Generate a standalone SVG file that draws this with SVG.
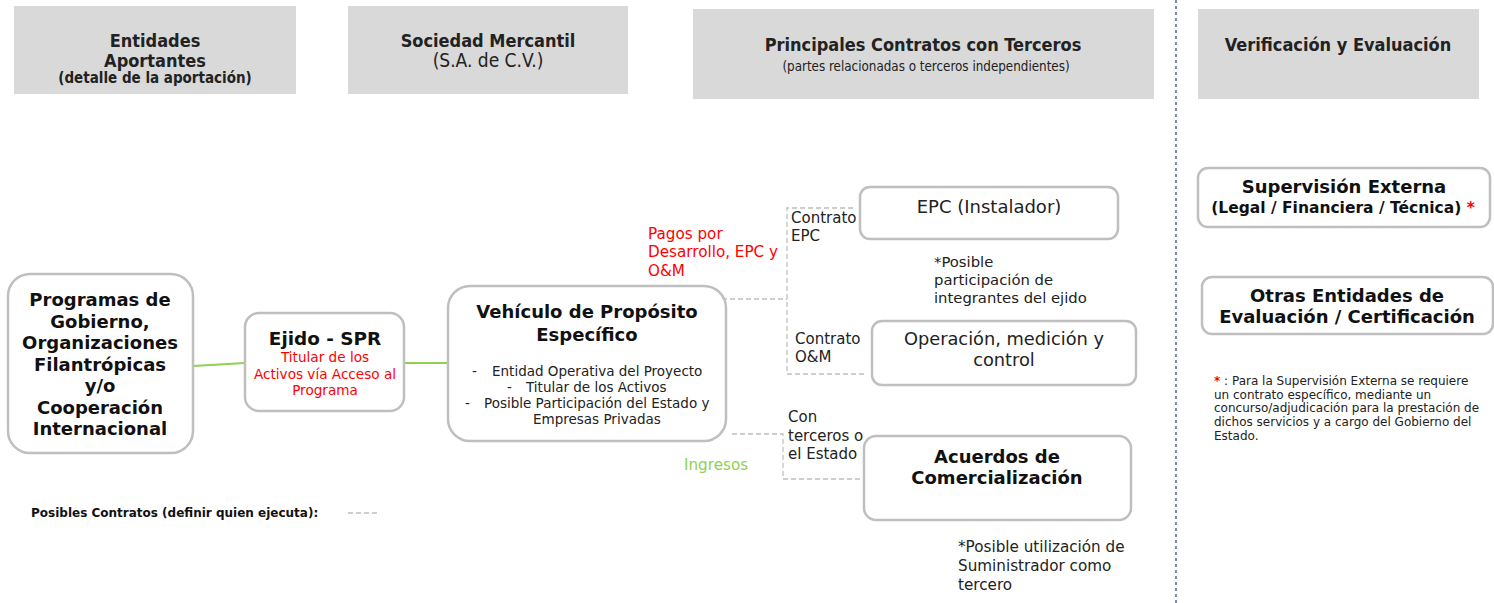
<svg xmlns="http://www.w3.org/2000/svg" width="1494" height="603" viewBox="0 0 1494 603">
<style>
.hdr{fill:#d9d9d9}
.ht{font-family:"DejaVu Sans Condensed","DejaVu Sans",sans-serif;font-weight:bold;fill:#222;text-anchor:middle}
.hs{font-family:"DejaVu Sans Condensed","DejaVu Sans",sans-serif;fill:#222;text-anchor:middle}
.box{fill:#fff;stroke:#bfbfbf;stroke-width:2.5}
.b{font-family:"DejaVu Sans",Verdana,sans-serif;font-weight:bold;fill:#111;text-anchor:middle}
.bl{font-family:"DejaVu Sans",Verdana,sans-serif;font-weight:bold;fill:#111}
.n{font-family:"DejaVu Sans",Verdana,sans-serif;fill:#222}
.c{text-anchor:middle}
.red{fill:#ff0000}
.grn{fill:#92d050}
.dash{fill:none;stroke:#bfbfbf;stroke-width:1.3;stroke-dasharray:5,3}
.gl{fill:none;stroke:#92d050;stroke-width:2}
</style>
<rect width="1494" height="603" fill="#fff"/>
<g id="headers">
<rect class="hdr" x="14" y="6" width="282" height="88"/>
<text class="ht" x="155" y="47" font-size="18">Entidades</text>
<text class="ht" x="155" y="67" font-size="18">Aportantes</text>
<text class="ht" x="155" y="83" font-size="15">(detalle de la aportación)</text>
<rect class="hdr" x="348" y="6" width="280" height="88"/>
<text class="ht" x="488" y="47" font-size="18">Sociedad Mercantil</text>
<text class="hs" x="488" y="67" font-size="19">(S.A. de C.V.)</text>
<rect class="hdr" x="693" y="9" width="461" height="90"/>
<text class="ht" x="923" y="51" font-size="18">Principales Contratos con Terceros</text>
<text class="hs" x="926" y="71" font-size="13.3">(partes relacionadas o terceros independientes)</text>
<rect class="hdr" x="1198" y="9" width="281" height="90"/>
<text class="ht" x="1338" y="51" font-size="18">Verificación y Evaluación</text>
</g>
<line x1="1176" y1="0" x2="1176" y2="603" stroke="#2f4f9f" stroke-width="1.3" stroke-dasharray="3,3"/>
<g id="connectors">
<path class="gl" d="M193 366 L245 363"/>
<path class="gl" d="M404 363 L448 363"/>
<path class="dash" d="M714 299 H787 M853 208 H787 V374 H866"/>
<path class="dash" d="M732 434 H783 V479 H862"/>
<path class="dash" d="M348 513 H380"/>
</g>
<g id="programas">
<rect class="box" x="8" y="274" width="185" height="179" rx="22"/>
<text class="b" font-size="18"><tspan x="100" y="306">Programas de</tspan><tspan x="100" y="327.5">Gobierno,</tspan><tspan x="100" y="349">Organizaciones</tspan><tspan x="100" y="370.5">Filantrópicas</tspan><tspan x="100" y="392">y/o</tspan><tspan x="100" y="413.5">Cooperación</tspan><tspan x="100" y="435">Internacional</tspan></text>
</g>
<g id="ejido">
<rect class="box" x="245" y="313" width="159" height="98" rx="14"/>
<text class="b" x="325" y="345" font-size="18.4">Ejido - SPR</text>
<text class="n c red" font-size="13.6"><tspan x="325" y="362">Titular de los</tspan><tspan x="325" y="378.5">Activos vía Acceso al</tspan><tspan x="325" y="395">Programa</tspan></text>
</g>
<g id="vpe">
<rect class="box" x="448" y="286" width="278" height="155" rx="22"/>
<text class="b" font-size="18"><tspan x="587" y="318">Vehículo de Propósito</tspan><tspan x="587" y="341">Específico</tspan></text>
<text class="n" font-size="13.5"><tspan x="472" y="376">-</tspan><tspan x="492" y="376">Entidad Operativa del Proyecto</tspan><tspan x="507" y="392">-</tspan><tspan x="526" y="392">Titular de los Activos</tspan><tspan x="465" y="408">-</tspan><tspan x="484" y="408">Posible Participación del Estado y</tspan><tspan x="533" y="424">Empresas Privadas</tspan></text>
</g>
<g id="labels">
<text class="n red" font-size="15.2"><tspan x="648" y="239">Pagos por</tspan><tspan x="648" y="257">Desarrollo, EPC y</tspan><tspan x="648" y="276">O&amp;M</tspan></text>
<text class="n" font-size="15"><tspan x="791" y="223">Contrato</tspan><tspan x="791" y="241">EPC</tspan></text>
<text class="n" font-size="15"><tspan x="795" y="344">Contrato</tspan><tspan x="795" y="362">O&amp;M</tspan></text>
<text class="n" font-size="15"><tspan x="788" y="422">Con</tspan><tspan x="788" y="441">terceros o</tspan><tspan x="788" y="459">el Estado</tspan></text>
<text class="n grn" x="684" y="470" font-size="15.2">Ingresos</text>
<text class="n" font-size="14.8"><tspan x="934" y="267">*Posible</tspan><tspan x="934" y="285">participación de</tspan><tspan x="934" y="303">integrantes del ejido</tspan></text>
<text class="n" font-size="15.2"><tspan x="958" y="552">*Posible utilización de</tspan><tspan x="958" y="571">Suministrador como</tspan><tspan x="958" y="590">tercero</tspan></text>
<text class="bl" x="31" y="517" font-size="12">Posibles Contratos (definir quien ejecuta):</text>
</g>
<g id="epc">
<rect class="box" x="860" y="187" width="258" height="52" rx="10"/>
<text class="n c" x="989" y="213" font-size="18">EPC (Instalador)</text>
</g>
<g id="operacion">
<rect class="box" x="872" y="321" width="264" height="64" rx="10"/>
<text class="n c" font-size="17.8"><tspan x="1004" y="345">Operación, medición y</tspan><tspan x="1004" y="366">control</tspan></text>
</g>
<g id="acuerdos">
<rect class="box" x="864" y="436" width="267" height="84" rx="12"/>
<text class="b" font-size="18"><tspan x="997" y="463">Acuerdos de</tspan><tspan x="997" y="484">Comercialización</tspan></text>
</g>
<g id="supervision">
<rect class="box" x="1198" y="168" width="292" height="59" rx="10"/>
<text class="b" x="1344" y="193" font-size="18">Supervisión Externa</text>
<text class="b" x="1343" y="213" font-size="15.5">(Legal / Financiera / Técnica) <tspan class="red">*</tspan></text>
</g>
<g id="otras">
<rect class="box" x="1202" y="277" width="291" height="57" rx="10"/>
<text class="b" font-size="18"><tspan x="1347" y="302">Otras Entidades de</tspan><tspan x="1347" y="323">Evaluación / Certificación</tspan></text>
</g>
<g id="nota">
<text class="n" font-size="12"><tspan x="1214" y="385"><tspan class="red" font-weight="bold">*</tspan> : Para la Supervisión Externa se requiere</tspan><tspan x="1214" y="398.5">un contrato específico, mediante un</tspan><tspan x="1214" y="412">concurso/adjudicación para la prestación de</tspan><tspan x="1214" y="426">dichos servicios y a cargo del Gobierno del</tspan><tspan x="1214" y="440">Estado.</tspan></text>
</g>
</svg>
